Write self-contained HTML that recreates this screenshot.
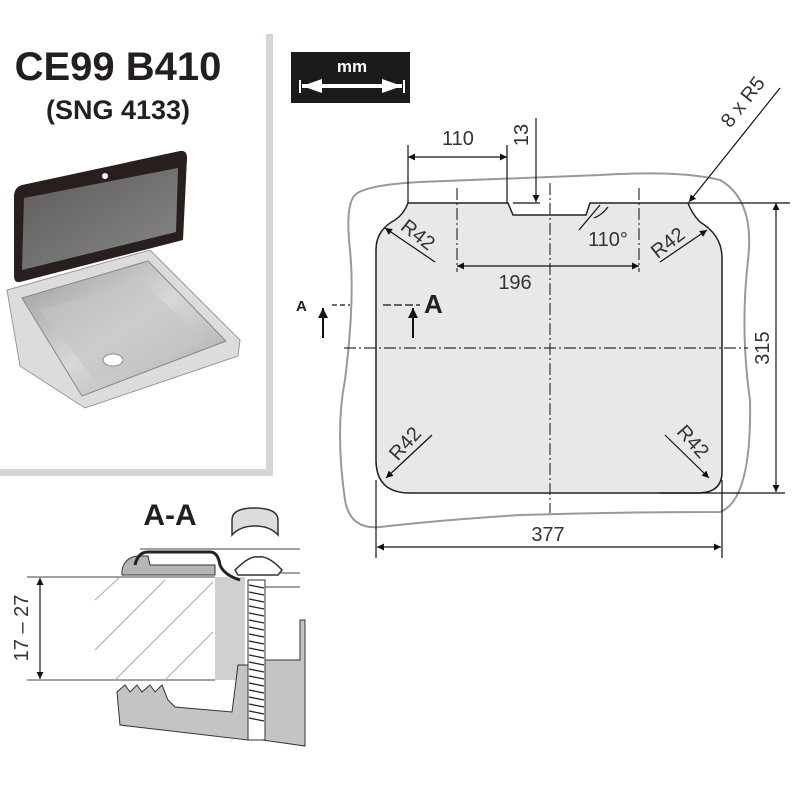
<!DOCTYPE html>
<html><head><meta charset="utf-8"><style>
html,body{margin:0;padding:0;background:#fff}
svg{display:block}
text{font-family:"Liberation Sans",sans-serif}
</style></head><body>
<svg width="800" height="800" viewBox="0 0 800 800" xmlns="http://www.w3.org/2000/svg">
<defs>
<marker id="ar" viewBox="0 0 10 10" refX="10" refY="5" markerWidth="14" markerHeight="7" orient="auto-start-reverse" markerUnits="userSpaceOnUse"><path d="M0,0 L10,5 L0,10 z" fill="#111"/></marker>
<marker id="ab" viewBox="0 0 10 10" refX="10" refY="5" markerWidth="16" markerHeight="10" orient="auto" markerUnits="userSpaceOnUse"><path d="M0,0 L10,5 L0,10 z" fill="#111"/></marker>
<linearGradient id="lid" x1="0" y1="0" x2="1" y2="1"><stop offset="0" stop-color="#666"/><stop offset="1" stop-color="#9a9a9a"/></linearGradient>
<linearGradient id="bowl" x1="0" y1="0" x2="1" y2="1"><stop offset="0" stop-color="#9a9a9a"/><stop offset="0.5" stop-color="#d8d8d8"/><stop offset="1" stop-color="#a8a8a8"/></linearGradient>
</defs>
<rect x="266" y="34" width="7" height="442" fill="#d4d6d6"/>
<rect x="0" y="469" width="273" height="7" fill="#d4d6d6"/>
<text x="118" y="80" font-size="40" font-weight="bold" text-anchor="middle" fill="#231f20">CE99 B410</text>
<text x="118" y="119" font-size="27" font-weight="bold" text-anchor="middle" fill="#231f20">(SNG 4133)</text>
<!-- sink photo -->
<path d="M7,290 L150,250 L240,340 L238,356 L85,408 L20,366 Z" fill="#dcdcdc" stroke="#999"/>
<path d="M22,298 L148,261 L226,341 L82,396 Z" fill="url(#bowl)" stroke="#888"/>
<path d="M40,310 L140,280 L205,340 L95,380 Z" fill="#c4c4c4" opacity="0.6"/>
<ellipse cx="113" cy="360" rx="10" ry="6" fill="#fff" stroke="#888"/>
<path d="M22,185 L180,151 Q187,150 187,158 L183,240 L20,282 Q14,283 14,276 L14,195 Q15,187 22,185 Z" fill="#2a1f1f"/>
<path d="M24,198 L178,168 L176,232 L22,270 Z" fill="url(#lid)" opacity="0.85"/>
<circle cx="105" cy="176" r="3" fill="#fff"/>
<!-- mm box -->
<rect x="291" y="52" width="119" height="51" fill="#1d1a1a"/>
<text x="352" y="72" font-size="17" font-weight="bold" fill="#fff" text-anchor="middle">mm</text>
<line x1="302" y1="86" x2="402" y2="86" stroke="#fff" stroke-width="4"/>
<path d="M302,86 L322,79 L322,93 Z M402,86 L382,79 L382,93 Z" fill="#fff"/>
<line x1="300" y1="80" x2="300" y2="93" stroke="#fff" stroke-width="2"/><line x1="404" y1="80" x2="404" y2="93" stroke="#fff" stroke-width="2"/>
<!-- wavy outline -->
<path d="M355,195 Q365,185 420,182 Q520,178 600,175 Q680,170 720,180 Q755,200 748,260 Q740,330 750,400 Q752,500 720,512 Q620,512 520,515 Q440,520 380,527 Q350,530 345,500 Q335,430 345,380 Q355,300 350,250 Q345,205 355,195 Z" fill="none" stroke="#999" stroke-width="2"/>
<path d="M408,203 L508,203 L513,215 L586,215 L590,203 L688,203 Q692,214 700,222 Q722,235 722,258 L722,472 Q722,492 700,493 L410,493 Q376,493 376,460 L376,250 Q376,230 395,220 Q404,214 408,203 Z" fill="#e7e8e9" stroke="#222" stroke-width="1.5"/>
<g stroke="#333" stroke-width="1.2" stroke-dasharray="12,3,2,3">
<line x1="550" y1="183" x2="550" y2="513"/>
<line x1="344" y1="348" x2="748" y2="348"/>
<line x1="457" y1="188" x2="457" y2="272"/>
<line x1="639" y1="188" x2="639" y2="272"/>
</g>
<g stroke="#111" stroke-width="1.2" fill="none">
<line x1="408" y1="145" x2="408" y2="203"/>
<line x1="507" y1="145" x2="507" y2="203"/>
<line x1="408" y1="157" x2="507" y2="157" marker-start="url(#ar)" marker-end="url(#ar)"/>
<line x1="536" y1="118" x2="536" y2="202" marker-end="url(#ar)"/>
<line x1="513" y1="203" x2="540" y2="203"/>
<line x1="457" y1="266" x2="639" y2="266" marker-start="url(#ar)" marker-end="url(#ar)"/>
<line x1="780" y1="88" x2="689" y2="202" marker-end="url(#ar)"/>
<line x1="688" y1="203" x2="790" y2="203"/>
<line x1="660" y1="493" x2="785" y2="493"/>
<line x1="776" y1="203" x2="776" y2="492" marker-start="url(#ar)" marker-end="url(#ar)"/>
<line x1="376" y1="480" x2="376" y2="558"/>
<line x1="722" y1="480" x2="722" y2="558"/>
<line x1="377" y1="547" x2="721" y2="547" marker-start="url(#ar)" marker-end="url(#ar)"/>
<line x1="435" y1="262" x2="385" y2="228" marker-end="url(#ar)"/>
<line x1="660" y1="262" x2="707" y2="230" marker-end="url(#ar)"/>
<line x1="432" y1="435" x2="386" y2="478" marker-end="url(#ar)"/>
<line x1="665" y1="435" x2="709" y2="478" marker-end="url(#ar)"/>
<path d="M608,207 Q602,215 594,218" />
<line x1="600" y1="205" x2="579" y2="230"/>
<line x1="332" y1="305" x2="350" y2="305" stroke-dasharray="5,3"/>
<line x1="383" y1="305" x2="420" y2="305" stroke-dasharray="8,3"/>
<line x1="323" y1="338" x2="323" y2="308" marker-end="url(#ab)" stroke-width="2"/>
<line x1="413" y1="338" x2="413" y2="308" marker-end="url(#ab)" stroke-width="2"/>
</g>
<g font-size="20" fill="#333">
<text x="458" y="145" text-anchor="middle">110</text>
<text x="528" y="135" transform="rotate(-90 528 135)" text-anchor="middle">13</text>
<text x="515" y="289" text-anchor="middle">196</text>
<text x="608" y="246" text-anchor="middle">110°</text>
<text x="748" y="106" transform="rotate(-52 748 106)" text-anchor="middle">8 x R5</text>
<text x="414" y="240" transform="rotate(38 414 240)" text-anchor="middle">R42</text>
<text x="672" y="248" transform="rotate(-38 672 248)" text-anchor="middle">R42</text>
<text x="410" y="448" transform="rotate(-48 410 448)" text-anchor="middle">R42</text>
<text x="688" y="446" transform="rotate(48 688 446)" text-anchor="middle">R42</text>
<text x="769" y="348" transform="rotate(-90 769 348)" text-anchor="middle">315</text>
<text x="548" y="541" text-anchor="middle">377</text>
</g>
<text x="296" y="311" font-size="15" font-weight="bold" fill="#231f20">A</text>
<text x="424" y="313" font-size="26" font-weight="bold" fill="#231f20">A</text>
<text x="170" y="525" font-size="30" font-weight="bold" fill="#231f20" text-anchor="middle">A-A</text>
<path d="M232,535 L232,520 Q232,508 254,508 Q278,508 278,520 L278,535 Q270,526 255,526 Q240,526 232,535 Z" fill="#ddd" stroke="#333" stroke-width="1.5"/>
<g stroke="#444" stroke-width="1" fill="none">
<line x1="140" y1="549" x2="300" y2="549"/>
<line x1="245" y1="573" x2="300" y2="573"/>
<line x1="260" y1="587" x2="300" y2="587"/>
<line x1="27" y1="577" x2="215" y2="577"/>
<line x1="27" y1="680" x2="215" y2="680"/>
</g>
<path d="M215,577 L245,577 L245,680 L215,680 Z" fill="#d0d0d0"/>
<g stroke="#aaa" stroke-width="1">
<line x1="95" y1="600" x2="120" y2="577"/><line x1="95" y1="650" x2="165" y2="580"/><line x1="115" y1="680" x2="213" y2="582"/><line x1="165" y1="680" x2="213" y2="632"/>
</g>
<path d="M122,570 Q125,556 140,556 L148,556 L150,565 L215,565 L215,575 L122,575 Z" fill="#b5b5b5" stroke="#333"/>
<path d="M135,565 Q138,552 148,552 L210,552 Q218,552 220,565 Q224,575 240,580" fill="none" stroke="#222" stroke-width="3"/>
<path d="M117,692 L125,685 L130,692 L137,685 L142,692 L150,685 L155,692 L162,685 L168,700 L175,707 L232,712 L238,665 L248,665 L248,740 L120,725 Z" fill="#c4c4c4" stroke="#333"/>
<path d="M268,660 L300,660 L300,620 L305,620 L305,746 L262,740 L262,660 Z" fill="#c4c4c4" stroke="#333"/>
<rect x="248" y="580" width="17" height="160" fill="#fff" stroke="#333"/>
<g stroke="#222" stroke-width="1.3">
<line x1="249" y1="585" x2="264" y2="588"/><line x1="249" y1="592" x2="264" y2="595"/><line x1="249" y1="599" x2="264" y2="602"/><line x1="249" y1="606" x2="264" y2="609"/><line x1="249" y1="613" x2="264" y2="616"/><line x1="249" y1="620" x2="264" y2="623"/><line x1="249" y1="627" x2="264" y2="630"/><line x1="249" y1="634" x2="264" y2="637"/><line x1="249" y1="641" x2="264" y2="644"/><line x1="249" y1="648" x2="264" y2="651"/><line x1="249" y1="655" x2="264" y2="658"/><line x1="249" y1="662" x2="264" y2="665"/><line x1="249" y1="669" x2="264" y2="672"/><line x1="249" y1="676" x2="264" y2="679"/><line x1="249" y1="683" x2="264" y2="686"/><line x1="249" y1="690" x2="264" y2="693"/><line x1="249" y1="697" x2="264" y2="700"/><line x1="249" y1="704" x2="264" y2="707"/><line x1="249" y1="711" x2="264" y2="714"/><line x1="249" y1="718" x2="264" y2="721"/>
</g>
<path d="M235,570 Q250,555 258,557 Q268,555 282,570 L278,575 L238,575 Z" fill="#fff" stroke="#333" stroke-width="1.5"/>
<line x1="40" y1="578" x2="40" y2="679" stroke="#111" stroke-width="1.2" marker-start="url(#ar)" marker-end="url(#ar)"/>
<text x="28" y="628" font-size="20" fill="#333" text-anchor="middle" transform="rotate(-90 28 628)">17 – 27</text>
</svg>
</body></html>
